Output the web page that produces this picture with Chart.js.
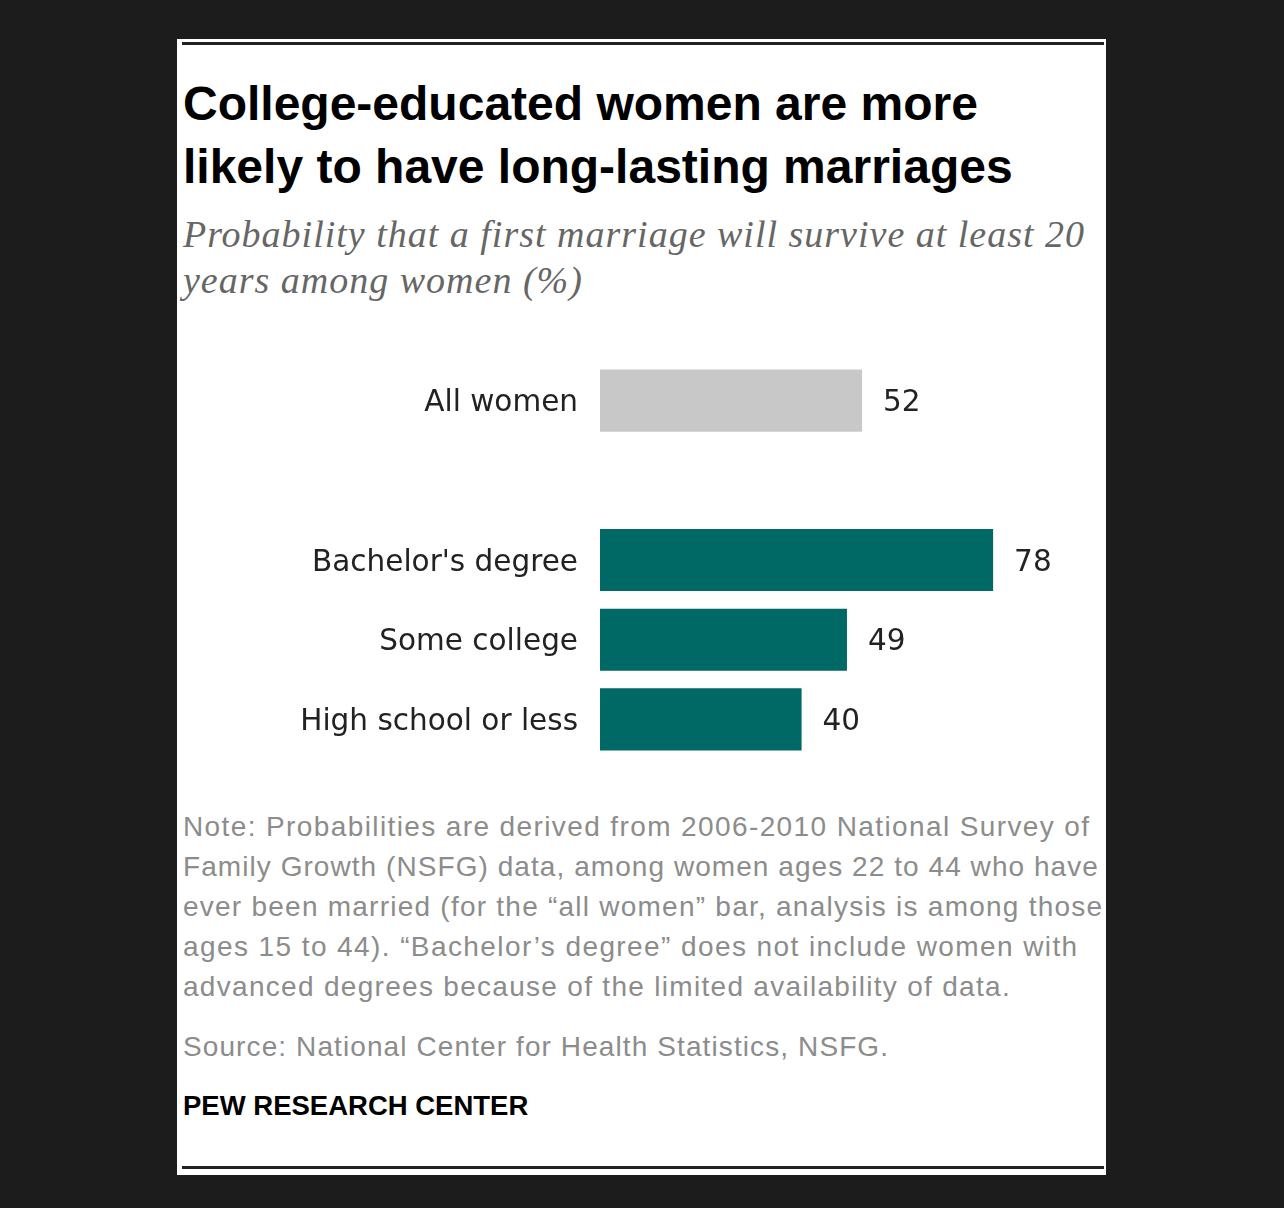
<!DOCTYPE html>
<html>
<head>
<meta charset="utf-8">
<script src="https://cdn.jsdelivr.net/npm/chart.js@4.4.0/dist/chart.umd.min.js"></script>
<style>
  html, body { margin: 0; padding: 0; background: #1c1c1c; }
  body { width: 1284px; height: 1208px; position: relative; overflow: hidden; }
  #card { position: absolute; left: 177px; top: 39px; width: 929px; height: 1136px; background: #fff; }
  .rule { position: absolute; left: 5px; width: 922px; height: 3px; background: #222; }
  .txt { position: absolute; left: 6px; white-space: nowrap; }
  .txt span { display: block; }
  #title { top: 33px; font: bold 48px "Liberation Sans", Arial, sans-serif; line-height: 63px; color: #000; }
  #subtitle { top: 172px; font: italic 38px "Liberation Serif", serif; letter-spacing: 1px; line-height: 46px; color: #666; }
  #note { top: 768px; font: 28px "Liberation Sans", Arial, sans-serif; line-height: 40px; color: #8c8c8c; }
  #source { top: 988px; font: 28px "Liberation Sans", Arial, sans-serif; letter-spacing: 1.1px; line-height: 40px; color: #8c8c8c; }
  #brand { top: 1047px; font: bold 27.5px "Liberation Sans", Arial, sans-serif; line-height: 40px; color: #000; }
  #chartBox { position: absolute; left: 0; top: 282px; width: 927px; height: 478px; }
</style>
</head>
<body>
<div id="card">
  <div class="rule" style="top:3px"></div>
  <div class="txt" id="title">College-educated women are more<br>likely to have long-lasting marriages</div>
  <div class="txt" id="subtitle">Probability that a first marriage will survive at least 20<br>years among women (%)</div>
  <div id="chartBox"><canvas id="barChart"></canvas></div>
  <div class="txt" id="note">
    <span style="letter-spacing:1.39px">Note: Probabilities are derived from 2006-2010 National Survey of</span>
    <span style="letter-spacing:1.06px">Family Growth (NSFG) data, among women ages 22 to 44 who have</span>
    <span style="letter-spacing:1.24px">ever been married (for the “all women” bar, analysis is among those</span>
    <span style="letter-spacing:1.41px">ages 15 to 44). “Bachelor’s degree” does not include women with</span>
    <span style="letter-spacing:1.3px">advanced degrees because of the limited availability of data.</span>
  </div>
  <div class="txt" id="source">Source: National Center for Health Statistics, NSFG.</div>
  <div class="txt" id="brand">PEW RESEARCH CENTER</div>
  <div class="rule" style="top:1127px"></div>
</div>
<script>
// Survival of first marriage at 20 years, by education (%)
const categories = ['All women', '', "Bachelor's degree", 'Some college', 'High school or less'];
const survivalPct = [52, null, 78, 49, 40];
const barColors = ['#c8c8c8', '#c8c8c8', '#006865', '#006865', '#006865'];

// Writes the number just past the end of each bar
const valueLabels = {
    id: 'valueLabels',
    afterDatasetsDraw(chart) {
        const ctx = chart.ctx;
        const meta = chart.getDatasetMeta(0);
        ctx.save();
        ctx.font = '29.5px "DejaVu Sans", sans-serif';
        ctx.fillStyle = '#222';
        ctx.textAlign = 'left';
        ctx.textBaseline = 'middle';
        meta.data.forEach(function(bar, i) {
            if (survivalPct[i] == null) return;
            ctx.fillText(String(survivalPct[i]), bar.x + 21, bar.y + 3);
        });
        ctx.restore();
    }
};

document.addEventListener('DOMContentLoaded', function() {
    const ctx = document.getElementById('barChart');
    new Chart(ctx.getContext('2d'), {
        type: 'bar',
        data: {
            labels: categories,
            datasets: [{
                data: survivalPct,
                backgroundColor: barColors,
                borderWidth: 0,
                categoryPercentage: 1,
                barPercentage: 0.78
            }]
        },
        options: {
            indexAxis: 'y',
            responsive: true,
            maintainAspectRatio: false,
            animation: false,
            layout: { padding: 0 },
            scales: {
                x: {
                    display: false,
                    min: 0,
                    max: 100
                },
                y: {
                    afterFit: function(axis) { axis.width = 423; },
                    grid: { display: false, drawTicks: false },
                    border: { display: false },
                    ticks: {
                        padding: 22,
                        labelOffset: 3,
                        color: '#222',
                        font: { family: '"DejaVu Sans", sans-serif', size: 29.5 }
                    }
                }
            },
            plugins: {
                legend: { display: false },
                tooltip: { enabled: false }
            }
        },
        plugins: [valueLabels]
    });
});
</script>
</body>
</html>
